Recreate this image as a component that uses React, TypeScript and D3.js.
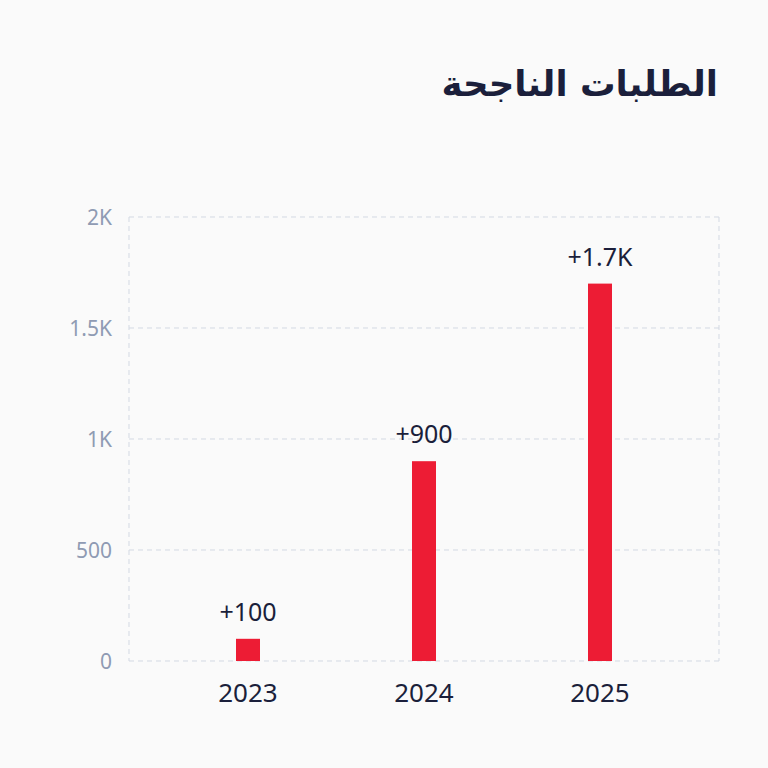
import React from "react";
import * as d3 from "d3";

const years = ["2023", "2024", "2025"];
const approved = [100, 900, 1700];
const valueLabels = ["+100", "+900", "+1.7K"];
const yTicks = [0, 500, 1000, 1500, 2000];
const yTickLabels = ["0", "500", "1K", "1.5K", "2K"];

const W = 768;
const H = 768;
const plotLeft = 129;
const plotRight = 719;
const plotTop = 217;
const plotBottom = 661;

export default function App() {
  const x = d3.scaleBand<string>().domain(years).range([160, 688]).padding(0);
  const y = d3.scaleLinear().domain([0, 2000]).range([plotBottom, plotTop]);
  const barW = 24;
  const font = "'Noto Sans', 'DejaVu Sans', sans-serif";

  return (
    <svg width={W} height={H} style={{ display: "block", position: "absolute", left: 0, top: 0 }}>
      <rect width={W} height={H} fill="#fafafa" />
      <text
        x={718}
        y={96}
        textAnchor="start"
        direction="rtl"
        fontFamily="'DejaVu Sans', 'Noto Sans', sans-serif"
        fontWeight="bold"
        fontSize={35.5}
        fill="#1b1f3b"
      >
        الطلبات الناجحة
      </text>
      {/* grid */}
      {yTicks.map((t) => (
        <line
          key={t}
          x1={plotLeft}
          x2={plotRight}
          y1={y(t)}
          y2={y(t)}
          stroke="#d3d9e3"
          strokeDasharray="5,4"
        />
      ))}
      <line x1={plotLeft} x2={plotLeft} y1={plotTop} y2={plotBottom} stroke="#d3d9e3" strokeDasharray="5,4" />
      <line x1={plotRight} x2={plotRight} y1={plotTop} y2={plotBottom} stroke="#d3d9e3" strokeDasharray="5,4" />
      {yTicks.map((t, i) => (
        <text
          key={t}
          x={112}
          y={y(t) + 8}
          textAnchor="end"
          fontFamily={font}
          fontSize={21}
          fill="#8f9bb3"
        >
          {yTickLabels[i]}
        </text>
      ))}
      {years.map((yr, i) => {
        const cx = (x(yr) as number) + x.bandwidth() / 2;
        return (
          <g key={yr}>
            <rect x={cx - barW / 2} y={y(approved[i])} width={barW} height={plotBottom - y(approved[i])} fill="#ed1c34" />
            <text x={cx} y={y(approved[i]) - 18} textAnchor="middle" fontFamily={font} fontSize={25} fill="#1b1f3b">
              {valueLabels[i]}
            </text>
            <text x={cx} y={702} textAnchor="middle" fontFamily={font} fontSize={26} fill="#1b1f3b">
              {yr}
            </text>
          </g>
        );
      })}
    </svg>
  );
}
